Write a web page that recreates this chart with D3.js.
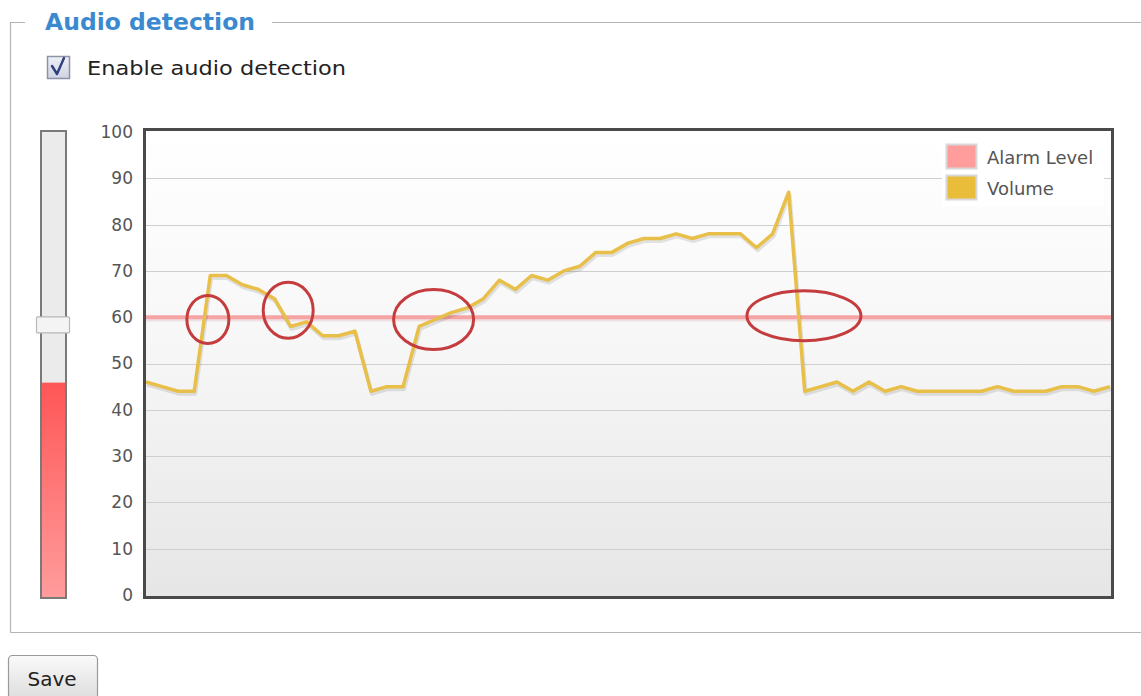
<!DOCTYPE html>
<html>
<head>
<meta charset="utf-8">
<script src="https://cdn.jsdelivr.net/npm/d3@7/dist/d3.min.js"></script>
<style>
  html, body { margin: 0; padding: 0; background: #fff; }
  svg { display: block; font-family: "DejaVu Sans", Verdana, sans-serif; }
</style>
</head>
<body>
<svg id="chart" width="1141" height="696"></svg>
<script>
// Volume samples, one per tick of the audio monitor
const volume = [
  46, 45, 44, 44, 69, 69, 67, 66, 64, 58,
  59, 56, 56, 57, 44, 45, 45, 58, 59.5, 61,
  62, 64, 68, 66, 69, 68, 70, 71, 74, 74,
  76, 77, 77, 78, 77, 78, 78, 78, 75, 78,
  87, 44, 45, 46, 44, 46, 44, 45, 44, 44,
  44, 44, 44, 45, 44, 44, 44, 45, 45, 44,
  45
];
const alarmLevel = 60;
const currentLevel = 46;
const yTicks = [0, 10, 20, 30, 40, 50, 60, 70, 80, 90, 100];
const legendLabels = ["Alarm Level", "Volume"];
const legendColors = ["#ff9c9c", "#e9bd3a"];
// Threshold crossings highlighted on the plot: [sample index, value]
const crossings = [[3.85, 59.5], [8.85, 61.5], [17.9, 59.5], [40.95, 60.3]];

const svg = d3.select("#chart");
const defs = svg.append("defs");

// ---- Fieldset frame ----
const frame = svg.append("g").attr("stroke", "#b4b4b4").attr("stroke-width", 1.2).attr("fill", "none");
frame.append("path").attr("d", "M10.5,632.5 V22.5 H25");
frame.append("path").attr("d", "M272,22.5 H1141");
frame.append("path").attr("d", "M10.5,632.5 H1141");

svg.append("text").attr("x", 45).attr("y", 30)
  .attr("font-size", 23).attr("font-weight", "bold").attr("fill", "#3b8ad0")
  .attr("textLength", 210).attr("lengthAdjust", "spacingAndGlyphs")
  .text("Audio detection");

// ---- Checkbox ----
const cbGrad = defs.append("linearGradient").attr("id", "cbGrad").attr("x1", 0).attr("y1", 0).attr("x2", 0).attr("y2", 1);
cbGrad.append("stop").attr("offset", 0).attr("stop-color", "#eef0f6");
cbGrad.append("stop").attr("offset", 1).attr("stop-color", "#cfd4e2");
svg.append("rect").attr("x", 47.5).attr("y", 56.5).attr("width", 22).attr("height", 22)
  .attr("fill", "url(#cbGrad)").attr("stroke", "#8d92a6").attr("stroke-width", 1.5);
svg.append("path").attr("d", "M52,66 L57,74 L64,58")
  .attr("fill", "none").attr("stroke", "#2f3f7e").attr("stroke-width", 2.4)
  .attr("stroke-linejoin", "round").attr("stroke-linecap", "round");
svg.append("text").attr("x", 87).attr("y", 75).attr("font-size", 20).attr("fill", "#222")
  .attr("textLength", 259).attr("lengthAdjust", "spacingAndGlyphs")
  .text("Enable audio detection");

// ---- Chart geometry ----
const plot = { left: 146, right: 1111, top: 131, bottom: 596 };
const x = d3.scaleLinear().domain([0, volume.length - 1]).range([plot.left, plot.right - 1]);
const y = d3.scaleLinear().domain([0, 100]).range([595, 132]);

// Plot background gradient
const bgGrad = defs.append("linearGradient").attr("id", "bgGrad").attr("x1", 0).attr("y1", 0).attr("x2", 0).attr("y2", 1);
bgGrad.append("stop").attr("offset", 0).attr("stop-color", "#ffffff");
bgGrad.append("stop").attr("offset", 0.45).attr("stop-color", "#f7f7f7");
bgGrad.append("stop").attr("offset", 1).attr("stop-color", "#e6e6e6");
svg.append("rect").attr("x", plot.left).attr("y", plot.top)
  .attr("width", plot.right - plot.left).attr("height", plot.bottom - plot.top)
  .attr("fill", "url(#bgGrad)");

// Gridlines
svg.append("g").selectAll("line").data(yTicks.filter(d => d > 0 && d < 100)).join("line")
  .attr("x1", plot.left).attr("x2", plot.right)
  .attr("y1", d => Math.round(y(d)) + 0.5).attr("y2", d => Math.round(y(d)) + 0.5)
  .attr("stroke", "#cfcfcf").attr("stroke-width", 1);

// Y axis labels
const yAxis = d3.axisLeft(y).tickValues(yTicks).tickSize(0).tickPadding(0);
const ya = svg.append("g").attr("transform", "translate(133,0)").call(yAxis);
ya.select(".domain").remove();
ya.selectAll("text").attr("font-size", 17).attr("fill", "#555")
  .attr("font-family", "DejaVu Sans, Verdana, sans-serif");

// Alarm level line
svg.append("line").attr("x1", plot.left).attr("x2", plot.right)
  .attr("y1", y(alarmLevel) + 2).attr("y2", y(alarmLevel) + 2)
  .attr("stroke", "rgba(200,120,120,0.18)").attr("stroke-width", 4.5);
svg.append("line").attr("x1", plot.left).attr("x2", plot.right)
  .attr("y1", y(alarmLevel)).attr("y2", y(alarmLevel))
  .attr("stroke", "#f6a3a3").attr("stroke-width", 4);

// Volume line with soft shadow
const line = d3.line().x((d, i) => x(i)).y(d => y(d));
svg.append("path").datum(volume).attr("d", line)
  .attr("transform", "translate(1,2.5)")
  .attr("fill", "none").attr("stroke", "rgba(0,0,0,0.10)").attr("stroke-width", 4)
  .attr("stroke-linejoin", "round");
svg.append("path").datum(volume).attr("d", line)
  .attr("fill", "none").attr("stroke", "#e8bf48").attr("stroke-width", 3.5)
  .attr("stroke-linejoin", "round");

// Plot border
svg.append("rect").attr("x", plot.left - 1.5).attr("y", plot.top - 1.5)
  .attr("width", plot.right - plot.left + 3).attr("height", plot.bottom - plot.top + 3)
  .attr("fill", "none").attr("stroke", "#4a4a4a").attr("stroke-width", 3);

// Legend
const lg = svg.append("g").attr("transform", "translate(942,140)");
lg.append("rect").attr("x", 0).attr("y", 0).attr("width", 162).attr("height", 66).attr("fill", "#fff");
legendLabels.forEach((lab, i) => {
  lg.append("rect").attr("x", 4.5).attr("y", 4.5 + i * 31).attr("width", 30).attr("height", 24)
    .attr("fill", legendColors[i]).attr("stroke", "#d8d8d8").attr("stroke-width", 2);
  lg.append("text").attr("x", 45).attr("y", 24 + i * 31).attr("font-size", 18).attr("fill", "#555")
    .text(lab);
});

// Threshold crossing markers
svg.append("g").selectAll("ellipse").data(crossings).join("ellipse")
  .attr("cx", d => x(d[0])).attr("cy", d => y(d[1]))
  .attr("rx", (d, i) => [21, 25, 40, 57][i]).attr("ry", (d, i) => [24, 28, 30, 25][i])
  .attr("fill", "none").attr("stroke", "#c43c3e").attr("stroke-width", 3);

// ---- Level slider ----
const sy = d3.scaleLinear().domain([0, 100]).range([597, 131]);
svg.append("rect").attr("x", 41).attr("y", 131).attr("width", 25).attr("height", 467)
  .attr("fill", "#ebebeb").attr("stroke", "#7a7a7a").attr("stroke-width", 2);
const redGrad = defs.append("linearGradient").attr("id", "redGrad").attr("x1", 0).attr("y1", 0).attr("x2", 0).attr("y2", 1);
redGrad.append("stop").attr("offset", 0).attr("stop-color", "#ff5656");
redGrad.append("stop").attr("offset", 1).attr("stop-color", "#ff9c9c");
svg.append("rect").attr("x", 42).attr("y", sy(currentLevel)).attr("width", 23).attr("height", 597 - sy(currentLevel))
  .attr("fill", "url(#redGrad)");
svg.append("rect").attr("x", 41).attr("y", 131).attr("width", 25).attr("height", 467)
  .attr("fill", "none").attr("stroke", "#7a7a7a").attr("stroke-width", 2);
svg.append("rect").attr("x", 36.5).attr("y", sy(alarmLevel) - 0.5).attr("width", 33).attr("height", 16)
  .attr("fill", "#f4f4f4").attr("stroke", "#b8b8b8").attr("stroke-width", 1.2).attr("rx", 1);

// ---- Save button ----
const btnGrad = defs.append("linearGradient").attr("id", "btnGrad").attr("x1", 0).attr("y1", 0).attr("x2", 0).attr("y2", 1);
btnGrad.append("stop").attr("offset", 0).attr("stop-color", "#fafafa");
btnGrad.append("stop").attr("offset", 1).attr("stop-color", "#dcdcdc");
svg.append("rect").attr("x", 8.5).attr("y", 655.5).attr("width", 89).attr("height", 45).attr("rx", 4)
  .attr("fill", "url(#btnGrad)").attr("stroke", "#9a9a9a").attr("stroke-width", 1.2);
svg.append("text").attr("x", 52).attr("y", 686).attr("text-anchor", "middle")
  .attr("font-size", 20).attr("fill", "#222").text("Save");
</script>
</body>
</html>
